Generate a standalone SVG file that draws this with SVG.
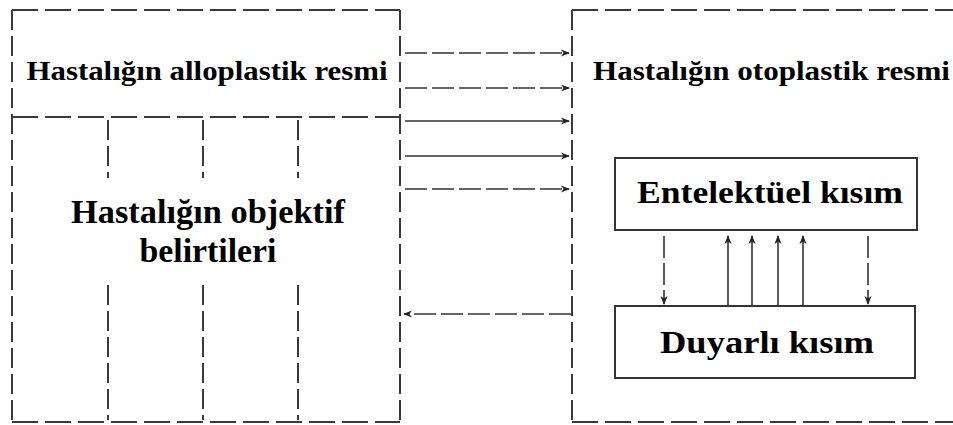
<svg xmlns="http://www.w3.org/2000/svg" width="953" height="425" viewBox="0 0 953 425">
<style>
.frame{fill:none;stroke:#3a3a3a;stroke-width:2;stroke-dasharray:26 7}
.vd{fill:none;stroke:#3a3a3a;stroke-width:2;stroke-dasharray:20 6}
.box{fill:none;stroke:#333;stroke-width:2}
.arr{fill:none;stroke:#333;stroke-width:1.6}
.dash{stroke-dasharray:22 5}
.t{font-family:"Liberation Serif","Times New Roman",serif;font-weight:bold;fill:#000}
</style>
<defs>
<marker id="ah" viewBox="0 0 10 10" refX="9" refY="5" markerWidth="9" markerHeight="9" markerUnits="userSpaceOnUse" orient="auto">
<path d="M0,1 L10,5 L0,9 L3,5 Z" fill="#222"/>
</marker>
</defs>
<rect width="953" height="425" fill="#fff"/>
<g id="left-box">
<path class="frame" d="M12,10 H400 M12,117 H400 M12,422 H400"/>
<path class="vd" d="M12,10 V422 M400,10 V422"/>
<path class="vd" d="M108,120 V178 M203,120 V178 M298,120 V178 M108,285 V420 M203,285 V420 M298,285 V420"/>
<text class="t" x="207" y="80" font-size="28" text-anchor="middle" textLength="361" lengthAdjust="spacingAndGlyphs">Hastalığın alloplastik resmi</text>
<text class="t" x="208" y="223" font-size="33" text-anchor="middle" textLength="274" lengthAdjust="spacingAndGlyphs">Hastalığın objektif</text>
<text class="t" x="208" y="262" font-size="33" text-anchor="middle" textLength="137" lengthAdjust="spacingAndGlyphs">belirtileri</text>
</g>
<g id="right-box">
<path class="frame" d="M572,10 H953 M572,422 H953"/>
<path class="vd" d="M572,10 V422"/>
<text class="t" x="593" y="80" font-size="28" textLength="357" lengthAdjust="spacingAndGlyphs">Hastalığın otoplastik resmi</text>
</g>
<g id="entelektuel">
<rect class="box" x="615" y="158" width="302" height="72"/>
<text class="t" x="770" y="203" font-size="31" text-anchor="middle" textLength="266" lengthAdjust="spacingAndGlyphs">Entelektüel kısım</text>
</g>
<g id="duyarli">
<rect class="box" x="615" y="306" width="300" height="72"/>
<text class="t" x="767" y="353" font-size="31" text-anchor="middle" textLength="214" lengthAdjust="spacingAndGlyphs">Duyarlı kısım</text>
</g>
<g id="connectors">
<path class="arr dash" marker-end="url(#ah)" d="M405,53 H569"/>
<path class="arr dash" marker-end="url(#ah)" d="M405,88 H569"/>
<path class="arr" marker-end="url(#ah)" d="M405,121 H569"/>
<path class="arr" marker-end="url(#ah)" d="M405,156 H569"/>
<path class="arr dash" marker-end="url(#ah)" d="M405,189 H569"/>
<path class="arr dash" marker-end="url(#ah)" d="M571,314 H404"/>
<path class="arr dash" marker-end="url(#ah)" d="M664,236 V304"/>
<path class="arr dash" marker-end="url(#ah)" d="M868,236 V304"/>
<path class="arr" marker-end="url(#ah)" d="M728,305 V236"/>
<path class="arr" marker-end="url(#ah)" d="M752,305 V236"/>
<path class="arr" marker-end="url(#ah)" d="M778,305 V236"/>
<path class="arr" marker-end="url(#ah)" d="M803,305 V236"/>
</g>
</svg>
